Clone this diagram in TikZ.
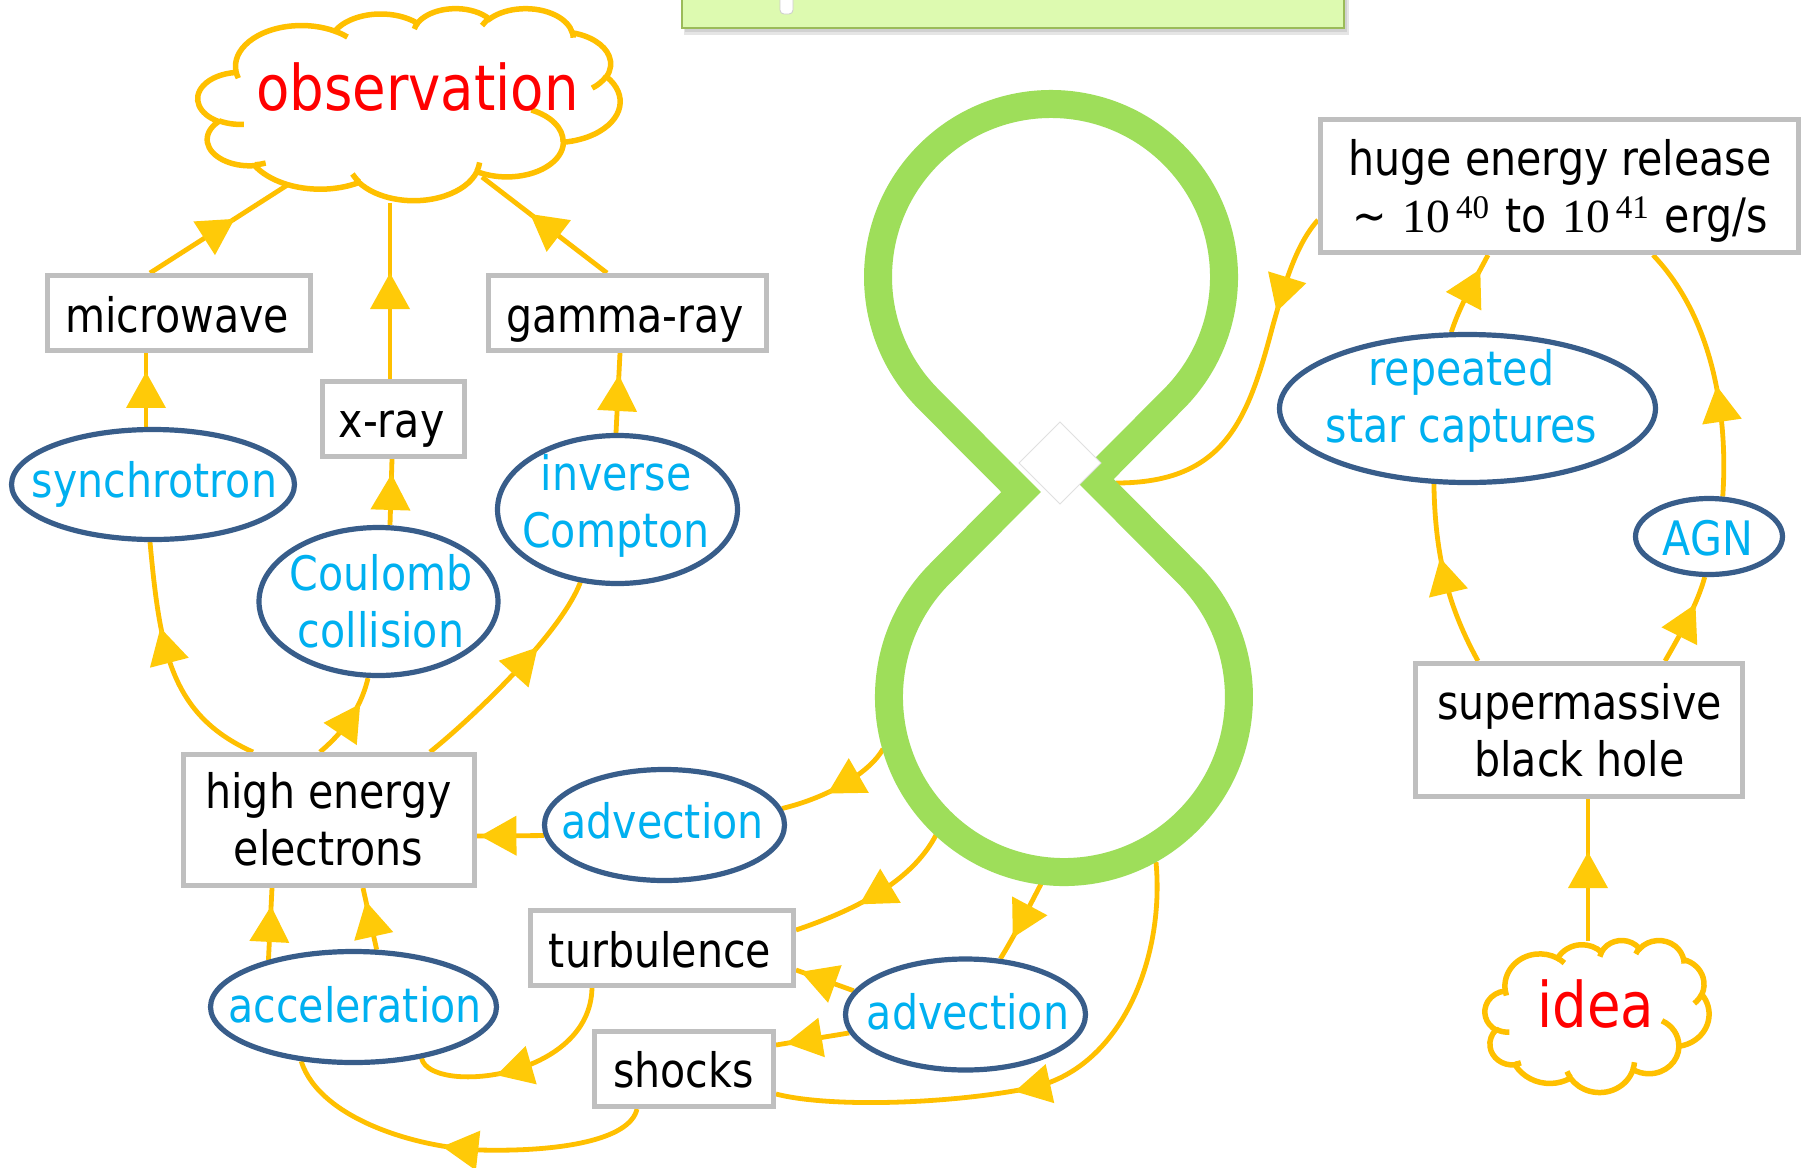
\documentclass[tikz,border=0pt]{standalone}
\usepackage[no-math]{fontspec}
\setmainfont{DejaVu Sans}[FakeStretch=0.866]
\newfontfamily\numfont{Liberation Serif}
\usetikzlibrary{shapes.geometric,decorations.markings,calc}
\pgfdeclarelayer{back}
\pgfdeclarelayer{bg}
\pgfsetlayers{back,bg,main}
\definecolor{LineY}{RGB}{255,192,0}
\definecolor{ArrowY}{RGB}{255,202,8}
\definecolor{EllBlue}{RGB}{56,93,138}
\definecolor{EllText}{RGB}{0,176,240}
\definecolor{BoxGray}{RGB}{191,191,191}
\definecolor{LoopGreen}{RGB}{158,222,90}
\definecolor{BanFill}{RGB}{221,250,176}
\definecolor{BanLine}{RGB}{155,187,89}
\definecolor{CloudRed}{RGB}{255,0,0}
\newcommand\fsN{\fontsize{23.75pt}{28.5pt}\selectfont}
\newcommand\fsL{\fontsize{31.5pt}{38pt}\selectfont}
\newcommand\tenpow[1]{{\numfont 10\hspace{3pt}\raisebox{7pt}{\fontsize{16.5pt}{16.5pt}\selectfont #1}}}
% arc of a PowerPoint-like cloud: wR hR stAng swAng (visual angles)
\newcommand\cldarc[4]{\pgfextra{%
    \pgfmathparse{atan2(#1*sin(#3),#2*cos(#3))}\global\let\cldA\pgfmathresult
    \pgfmathparse{atan2(#1*sin(#3+#4),#2*cos(#3+#4))}\global\let\cldB\pgfmathresult
    \pgfmathparse{mod(\cldB-\cldA+720,360)}\global\let\cldD\pgfmathresult}%
  arc[start angle=\cldA, delta angle=\cldD, x radius=#1, y radius=#2]}
\newcommand\pptcloud[4]{%
  \begin{scope}[shift={(#1,#2)}, x=#3, y=-#4]
    \filldraw[cloudln, fill=white] (39.00,143.70)
      \cldarc{67.53}{91.90}{-190.4875}{123.7805}
      \cldarc{53.33}{72.67}{-144.1024}{89.9452}
      \cldarc{43.65}{59.45}{-145.8079}{99.7230}
      \cldarc{48.57}{65.95}{-130.9861}{117.2417}
      \cldarc{53.33}{72.73}{-78.7089}{109.0269}
      \cldarc{67.75}{92.20}{-46.2673}{130.2690}
      \cldarc{57.85}{78.67}{0.6250}{114.0333}
      \cldarc{67.52}{92.15}{22.4516}{115.1726}
      \cldarc{77.20}{105.43}{66.2426}{75.7110}
      \cldarc{43.60}{59.18}{-274.9421}{146.7356}
      \cldarc{43.45}{59.45}{-246.8285}{152.5189}
      -- cycle;
    \draw[cloudln] (46.93,261.77) \cldarc{43.45}{59.45}{86.7420}{26.4295}
      (69.28,348.99) \cldarc{43.60}{59.18}{73.6105}{11.4475}
      (164.78,390.90) \cldarc{67.52}{92.15}{137.6242}{14.0811}
      (288.27,347.51) \cldarc{67.52}{92.15}{6.4533}{15.9984}
      (341.29,229.54) \cldarc{57.85}{78.67}{-70.2924}{70.9174}
      (417.98,153.54) \cldarc{53.33}{72.73}{30.3180}{27.7515}
      (383.24,54.26) \cldarc{48.57}{65.95}{-13.7443}{14.8519}
      (290.78,39.52) \cldarc{48.57}{65.95}{-149.1815}{18.1837}
      (221.41,47.20) \cldarc{43.65}{59.45}{-163.4943}{17.6910}
      (140.00,51.92) \cldarc{67.53}{91.90}{-66.7070}{12.3194}
      (41.27,157.89) \cldarc{67.53}{91.90}{157.6544}{11.8582};
  \end{scope}}
\tikzset{
  cloudln/.style={draw=LineY, line width=2.75pt},
  boxn/.style={rectangle, draw=BoxGray, line width=2.5pt, fill=white, inner sep=0pt},
  elln/.style={ellipse, draw=EllBlue, line width=2.6pt, fill=white, inner sep=0pt},
  btext/.style={font=\fsN, text=black, anchor=base, inner sep=0pt},
  etext/.style={font=\fsN, text=EllText, anchor=base, inner sep=0pt},
  ctext/.style={font=\fsL, text=CloudRed, anchor=base, inner sep=0pt},
  conn/.style={draw=LineY, line width=2.4pt},
  midarr/.style={postaction={decorate, decoration={markings,
      mark=at position #1 with {\fill[ArrowY] (9pt,0pt) -- (-9pt,10pt) -- (-9pt,-10pt) -- cycle;}}}},
}
\begin{document}
\begin{tikzpicture}[x=0.5pt, y=-0.5pt]
\useasboundingbox (0,0) rectangle (1806,1168);
\begin{pgfonlayer}{back}
\fill[white] (0,0) rectangle (1806,1168);
\end{pgfonlayer}

% banner (cut at the top)
\fill[black!40, opacity=0.25] (684,-10) rectangle (1349,35);
\fill[black!40, opacity=0.25] (685,-10) rectangle (1347,32);
\filldraw[fill=BanFill, draw=BanLine, line width=1pt] (682,-10) rectangle (1344,28);
\filldraw[fill=white, draw=black!20, line width=0.4pt, rounded corners=2pt] (780,-6) rectangle (793,14);

% clouds
\pptcloud{198}{8}{0.48843pt}{0.22222pt}
\node[ctext] (obs-t) at (417.5,110) {observation};
\pptcloud{1485}{940}{0.259259pt}{0.175926pt}
\node[ctext] (idea-t) at (1596,1027) {idea};

% figure-eight
\draw[draw=LoopGreen, line width=14pt, line join=miter]
  (1021,492) -- (928.7,399.3) arc[start angle=135, end angle=405, radius=173]
  -- (1094,479) -- (1187.7,573.3) arc[start angle=-45, end angle=225, radius=175] -- cycle;
\filldraw[fill=white, draw=black!12, line width=0.4pt] (1060,422) -- (1101,463) -- (1060,504) -- (1019,463) -- cycle;

% boxes
\node[boxn, minimum width=131.5pt, minimum height=37.5pt] (mw) at (179,313) {};
\node[boxn, minimum width=71pt, minimum height=37.5pt] (xr) at (393.5,419) {};
\node[boxn, minimum width=139pt, minimum height=37.5pt] (gr) at (627.5,313) {};
\node[boxn, minimum width=145.5pt, minimum height=65.5pt] (hee) at (329,820) {};
\node[boxn, minimum width=131.5pt, minimum height=37.5pt] (turb) at (662,948) {};
\node[boxn, minimum width=89.5pt, minimum height=37.5pt] (shk) at (684,1069) {};
\node[boxn, minimum width=239pt, minimum height=66.5pt] (huge) at (1559.5,186) {};
\node[boxn, minimum width=163.5pt, minimum height=66.5pt] (smbh) at (1579,730) {};

% ellipses
\node[elln, minimum width=141.5pt, minimum height=55pt] (syn) at (153,484.5) {};
\node[elln, minimum width=119.5pt, minimum height=74pt] (cou) at (378.5,601.5) {};
\node[elln, minimum width=120pt, minimum height=74pt] (ic) at (617.5,509.5) {};
\node[elln, minimum width=120pt, minimum height=55.5pt] (advA) at (664.5,825) {};
\node[elln, minimum width=143pt, minimum height=55.5pt] (acc) at (353.5,1007) {};
\node[elln, minimum width=120pt, minimum height=55.5pt] (advB) at (965.5,1014.5) {};
\node[elln, minimum width=188pt, minimum height=74pt] (rsc) at (1467.5,408.5) {};
\node[elln, minimum width=73.5pt, minimum height=38pt] (agn) at (1709,536.5) {};

% texts
\node[btext] (mw-t) at (177,332) {microwave};
\node[btext] (gr-t) at (625,332) {gamma-ray};
\node[btext] (xr-t) at (391.5,437) {x-ray};
\node[btext] (hee-t) at (328.5,865) {\begin{tabular}[b]{@{}c@{}}high energy\\electrons\end{tabular}};
\node[btext] (turb-t) at (660,967) {turbulence};
\node[btext] (shk-t) at (683.5,1087) {shocks};
\node[btext] (huge-t) at (1560,232) {\begin{tabular}[b]{@{}c@{}}huge energy release\\\textasciitilde\hspace{8pt}\tenpow{40}\hspace{8pt}to\hspace{8pt}\tenpow{41}\hspace{8pt}erg/s\end{tabular}};
\node[btext] (smbh-t) at (1579.5,776) {\begin{tabular}[b]{@{}c@{}}supermassive\\black hole\end{tabular}};
\node[etext] (syn-t) at (154.5,497) {synchrotron};
\node[etext] (cou-t) at (381,647) {\begin{tabular}[b]{@{}c@{}}Coulomb\\collision\end{tabular}};
\node[etext] (ic-t) at (616,547) {\begin{tabular}[b]{@{}c@{}}inverse\\Compton\end{tabular}};
\node[etext] (advA-t) at (662.5,838) {advection};
\node[etext] (acc-t) at (355,1022) {acceleration};
\node[etext] (advB-t) at (968,1029) {advection};
\node[etext] (rsc-t) at (1461.5,442) {\begin{tabular}[b]{@{}c@{}}repeated\\star captures\end{tabular}};
\node[etext] (agn-t) at (1708,555) {AGN};

% free ends on the clouds and the loop
\coordinate (obs-a) at (289,184);
\coordinate (obs-b) at (390,203);
\coordinate (obs-c) at (482,177);
\coordinate (idea-a) at (1588,941);
\coordinate (lp-a) at (883,749);
\coordinate (lp-b) at (936,835);
\coordinate (lp-c) at (1041,884);
\coordinate (lp-d) at (1156,862);
\coordinate (lp-e) at (1116,483);

\begin{pgfonlayer}{bg}
\draw[conn, midarr=0.5] ($(mw.north)+(-29,0)$) -- (obs-a);
\draw[conn, midarr=0.5] ($(xr.north)+(-3.5,0)$) -- (obs-b);
\draw[conn, midarr=0.5] ($(gr.north)+(-20.5,0)$) -- (obs-c);
\draw[conn, midarr=0.5] ($(syn.north)+(-7,0)$) -- ($(mw.south)+(-33,0)$);
\draw[conn, midarr=0.5] ($(cou.north)+(11.5,0)$) -- ($(xr.south)+(-1.5,0)$);
\draw[conn, midarr=0.5] ($(ic.north)+(-1.5,0)$) -- ($(gr.south)+(-7.5,0)$);
\draw[conn, midarr=0.58] ($(hee.north)+(-76,0)$) .. controls (170,715) and (160,650) .. ($(syn.south)+(-3,0)$);
\draw[conn, midarr=0.5] ($(hee.north)+(-9,0)$) .. controls (340,735) and (360,712) .. ($(cou.south)+(-10.5,0)$);
\draw[conn, midarr=0.58] ($(hee.north)+(101,0)$) .. controls (470,720) and (560,635) .. (ic.243);
\draw[conn, midarr=0.68] (advA.185) -- ($(hee.east)+(0,16)$);
\draw[conn, midarr=0.45] (lp-a) .. controls (870,772) and (830,797) .. (advA.8);
\draw[conn, midarr=0.5] (lp-b) .. controls (915,875) and (870,905) .. ($(turb.east)+(0,-18)$);
\draw[conn, midarr=0.5] (lp-c) .. controls (1030,905) and (1015,935) .. (advB.58);
\draw[conn, midarr=0.52] (lp-d) .. controls (1165,960) and (1120,1070) .. (1030,1088) .. controls (950,1104) and (830,1108) .. ($(shk.east)+(0,25)$);
\draw[conn, midarr=0.62] (advB.168) -- ($(turb.east)+(0,22)$);
\draw[conn, midarr=0.62] (advB.189) -- ($(shk.east)+(0,-24)$);
\draw[conn, midarr=0.55] ($(turb.south)+(-70,0)$) .. controls (590,1080) and (430,1095) .. (acc.-37);
\draw[conn, midarr=0.5] ($(shk.south)+(-47,0)$) .. controls (630,1140) and (560,1152) .. (480,1150) .. controls (420,1148) and (320,1120) .. (acc.226);
\draw[conn, midarr=0.5] (acc.151) -- ($(hee.south)+(-57,0)$);
\draw[conn, midarr=0.5] (acc.68) -- ($(hee.south)+(34,0)$);
\draw[conn, midarr=0.23] ($(huge.west)+(0,34)$) .. controls (1295,245) and (1283,290) .. (1273,325) .. controls (1248,420) and (1225,483) .. (lp-e);
\draw[conn, midarr=0.6] (rsc.102) .. controls (1460,305) and (1475,280) .. ($(huge.south)+(-71.5,0)$);
\draw[conn, midarr=0.5] ($(smbh.north)+(-101,0)$) .. controls (1450,610) and (1435,560) .. (rsc.246);
\draw[conn, midarr=0.5] ($(smbh.north)+(86,0)$) .. controls (1680,635) and (1697,605) .. (agn.264);
\draw[conn, midarr=0.36] (agn.71) .. controls (1728,420) and (1715,320) .. ($(huge.south)+(93.5,0)$);
\draw[conn, midarr=0.5] (idea-a) -- ($(smbh.south)+(9,0)$);
\end{pgfonlayer}
\end{tikzpicture}
\end{document}
